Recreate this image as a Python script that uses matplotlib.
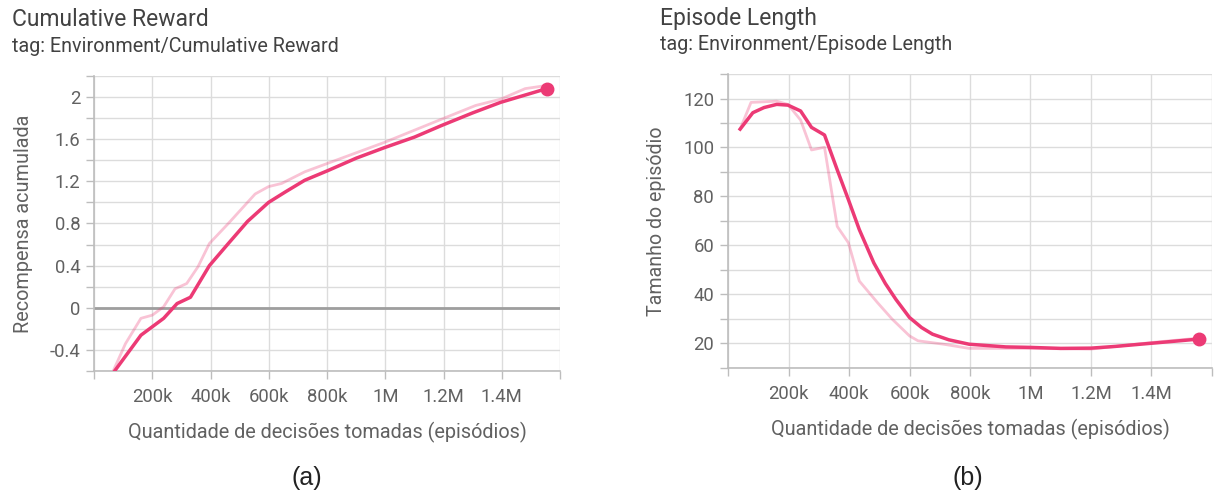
import matplotlib
matplotlib.use('Agg')
import matplotlib.pyplot as plt
from matplotlib.ticker import FuncFormatter, MultipleLocator

# Cumulative Reward (a)
reward_raw_x = [56e3, 108e3, 161e3, 200e3, 239e3, 278e3, 318e3, 357e3, 396e3, 461e3,
                553e3, 599e3, 644e3, 723e3, 801e3, 997e3, 1.193e6, 1.31e6, 1.396e6,
                1.48e6, 1.554e6]
reward_raw_y = [-0.66, -0.34, -0.10, -0.07, 0.01, 0.18, 0.23, 0.39, 0.61, 0.80,
                1.08, 1.15, 1.18, 1.29, 1.37, 1.57, 1.79, 1.92, 1.98, 2.08, 2.11]
reward_smooth_x = [60e3, 161e3, 200e3, 239e3, 285e3, 331e3, 396e3, 461e3, 527e3,
                   599e3, 657e3, 723e3, 801e3, 900e3, 997e3, 1.1e6, 1.193e6, 1.3e6,
                   1.396e6, 1.554e6]
reward_smooth_y = [-0.64, -0.26, -0.18, -0.10, 0.04, 0.10, 0.40, 0.61, 0.82,
                   1.00, 1.10, 1.21, 1.30, 1.42, 1.52, 1.62, 1.73, 1.85,
                   1.95, 2.08]

# Episode Length (b)
length_raw_x = [40e3, 76e3, 161e3, 198e3, 240e3, 276e3, 319e3, 361e3, 398e3, 434e3,
                494e3, 543e3, 600e3, 628e3, 713e3, 797e3, 1.0e6, 1.2e6, 1.4e6, 1.557e6]
length_raw_y = [107.5, 118.4, 118.9, 117.6, 111.2, 99.0, 100.1, 67.8, 61.1, 45.5,
                36.7, 29.9, 23.1, 21.1, 19.7, 18.0, 18.0, 17.7, 20.4, 22.2]
length_smooth_x = [40e3, 82e3, 119e3, 161e3, 198e3, 240e3, 276e3, 319e3, 361e3,
                   398e3, 434e3, 482e3, 520e3, 555e3, 600e3, 640e3, 676e3, 730e3,
                   797e3, 919e3, 1.0e6, 1.1e6, 1.2e6, 1.28e6, 1.4e6, 1.557e6]
length_smooth_y = [107.5, 114.2, 116.3, 117.6, 117.3, 114.9, 108.2, 105.1, 90.9,
                   78.7, 66.5, 52.9, 44.5, 38.0, 30.6, 26.5, 23.8, 21.5,
                   19.7, 18.6, 18.4, 18.0, 18.1, 18.8, 20.1, 21.8]

line_color = '#ec3a75'
grid_color = '#dcdcdc'
axis_color = '#bdbdbd'
tick_color = '#616161'
font = 'Roboto'

plt.rcParams['font.family'] = [font, 'DejaVu Sans']


def xfmt(v, pos):
  if v <= 0 or v > 1.5e6:
    return ''
  if v >= 1e6:
    return '%gM' % (v / 1e6)
  return '%dk' % round(v / 1e3)


def style_axes(ax, ylim, ymajor, yminor, yfmt):
  ax.set_xlim(0, 1.6e6)
  ax.set_ylim(*ylim)
  ax.xaxis.set_major_locator(MultipleLocator(200e3))
  ax.xaxis.set_major_formatter(FuncFormatter(xfmt))
  ax.yaxis.set_major_locator(MultipleLocator(ymajor))
  ax.yaxis.set_minor_locator(MultipleLocator(yminor))
  ax.yaxis.set_major_formatter(FuncFormatter(yfmt))
  ax.grid(True, which='both', color=grid_color, linewidth=1.0)
  ax.set_axisbelow(True)
  for side in ['top', 'right']:
    ax.spines[side].set_visible(False)
  for side in ['left', 'bottom']:
    ax.spines[side].set_color(axis_color)
    ax.spines[side].set_linewidth(1.2)
  ax.tick_params(which='both', colors=axis_color, labelcolor=tick_color,
                 labelsize=13.3, length=6, width=1.0)
  ax.tick_params(axis='x', pad=6)
  ax.tick_params(axis='y', pad=4)


def reward_fmt(v, pos):
  if abs(v) < 1e-9:
    return '0'
  if v < -0.5 or v > 2.1:
    return ''
  return '%g' % round(v, 1)


def length_fmt(v, pos):
  if v < 15 or v > 125:
    return ''
  return '%d' % v


fig = plt.figure(figsize=(12.15, 4.95), dpi=100)

ax1 = fig.add_axes([0.0774, 0.2505, 0.3836, 0.5960])
ax1.axhline(0, color='#9e9e9e', linewidth=2, zorder=1)
ax1.plot(reward_raw_x, reward_raw_y, color=line_color, alpha=0.3, linewidth=2, zorder=2)
ax1.plot(reward_smooth_x, reward_smooth_y, color=line_color, linewidth=2.5, zorder=3)
ax1.plot(reward_smooth_x[-1], reward_smooth_y[-1], 'o', color=line_color,
         markersize=9, zorder=4, clip_on=False)
style_axes(ax1, (-0.6, 2.2), 0.4, 0.2, reward_fmt)
ax1.set_ylabel('Recompensa acumulada', fontsize=14.3, color=tick_color, labelpad=12)
ax1.set_xlabel('Quantidade de decisões tomadas (episódios)', fontsize=14.3,
               color=tick_color, labelpad=12)

ax2 = fig.add_axes([0.5992, 0.2566, 0.3983, 0.5939])
ax2.plot(length_raw_x, length_raw_y, color=line_color, alpha=0.3, linewidth=2, zorder=2)
ax2.plot(length_smooth_x, length_smooth_y, color=line_color, linewidth=2.5, zorder=3)
ax2.plot(length_smooth_x[-1], length_smooth_y[-1], 'o', color=line_color,
         markersize=9, zorder=4, clip_on=False)
style_axes(ax2, (10, 130), 20, 10, length_fmt)
ax2.set_ylabel('Tamanho do episódio', fontsize=14.1, color=tick_color, labelpad=12)
ax2.set_xlabel('Quantidade de decisões tomadas (episódios)', fontsize=14.3,
               color=tick_color, labelpad=12)

fig.text(12 / 1215, 1 - 20 / 495, 'Cumulative Reward', fontsize=16.5, color='#424242',
         va='center', ha='left')
fig.text(12 / 1215, 1 - 46 / 495, 'tag: Environment/Cumulative Reward', fontsize=14.2,
         color='#424242', va='center', ha='left')
fig.text(660 / 1215, 1 - 18 / 495, 'Episode Length', fontsize=16.5, color='#424242',
         va='center', ha='left')
fig.text(660 / 1215, 1 - 44 / 495, 'tag: Environment/Episode Length', fontsize=14.2,
         color='#424242', va='center', ha='left')

fig.text(307 / 1215, 1 - 478 / 495, '(a)', fontsize=18, color='#222222',
         va='center', ha='center', family=['Liberation Sans', 'DejaVu Sans'])
fig.text(968 / 1215, 1 - 478 / 495, '(b)', fontsize=18, color='#222222',
         va='center', ha='center', family=['Liberation Sans', 'DejaVu Sans'])

fig.savefig('out.png', dpi=100)
